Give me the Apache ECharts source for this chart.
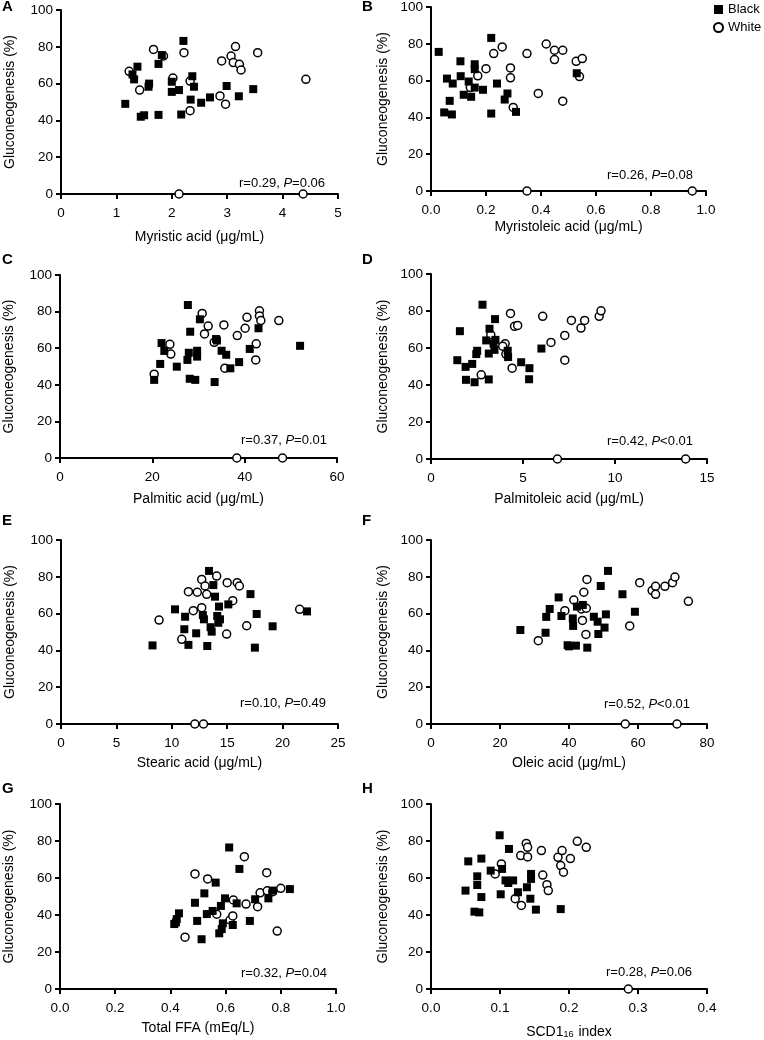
<!DOCTYPE html>
<html>
<head>
<meta charset="utf-8">
<script src="https://cdn.jsdelivr.net/npm/echarts@6/dist/echarts.min.js"></script>
<style>
html,body{margin:0;padding:0;background:#fff;}
#chart{width:764px;height:1040px;}
</style>
</head>
<body>
<div id="chart"></div>
<script>
// ---------- DATA ----------
const xNames = ['Myristic acid (\u03bcg/mL)', 'Myristoleic acid (\u03bcg/mL)', 'Palmitic acid (\u03bcg/mL)', 'Palmitoleic acid (\u03bcg/mL)',
  'Stearic acid (\u03bcg/mL)', 'Oleic acid (\u03bcg/mL)', 'Total FFA (mEq/L)', 'SCD1{sub|16} index'];
const yName = 'Gluconeogenesis (%)';
const panelLetters = ['A', 'B', 'C', 'D', 'E', 'F', 'G', 'H'];
const xMax = [5, 1.0, 60, 15, 25, 80, 1.0, 0.4];
const xInterval = [1, 0.2, 20, 5, 5, 20, 0.2, 0.1];
const xDecimals = [0, 1, 0, 0, 0, 0, 1, 1];
const yTicks = [0, 20, 40, 60, 80, 100];
const stats = ['r=0.29, {i|P}=0.06', 'r=0.26, {i|P}=0.08', 'r=0.37, {i|P}=0.01', 'r=0.42, {i|P}<0.01',
  'r=0.10, {i|P}=0.49', 'r=0.52, {i|P}<0.01', 'r=0.32, {i|P}=0.04', 'r=0.28, {i|P}=0.06'];

const blackA = [[1.16,49.0],[1.29,65.0],[1.32,62.3],[1.38,69.2],[1.44,42.0],[1.50,42.8],[1.58,58.3],[1.59,60.0],[1.76,70.7],[1.82,75.5],[1.76,43.0],[2.00,61.0],[2.00,55.5],[2.13,56.5],[2.17,43.2],[2.21,83.2],[2.37,64.0],[2.40,58.3],[2.34,51.3],[2.53,49.6],[2.69,52.5],[2.99,58.7],[3.21,53.1],[3.47,57.0]];
const whiteA = [[1.23,66.7],[1.42,56.5],[1.67,78.6],[1.85,75.0],[2.02,63.0],[2.22,76.8],[2.33,61.4],[2.33,45.3],[2.90,72.3],[3.07,75.0],[3.15,80.1],[3.11,71.4],[3.22,70.5],[3.25,67.4],[2.87,53.3],[2.97,48.8],[3.55,76.8],[4.42,62.3],[2.13,0],[4.37,0]];

const blackB = [[0.028,75.6],[0.048,42.7],[0.058,61.1],[0.068,49.0],[0.076,41.6],[0.079,58.4],[0.107,70.5],[0.108,62.4],[0.119,52.3],[0.137,59.5],[0.146,51.2],[0.159,68.9],[0.159,66.2],[0.159,56.2],[0.189,55.0],[0.219,83.2],[0.219,42.1],[0.240,58.4],[0.278,53.0],[0.268,49.7],[0.309,43.0],[0.530,64.0]];
const whiteB = [[0.143,56.2],[0.170,62.6],[0.200,66.5],[0.228,74.7],[0.259,78.3],[0.289,66.9],[0.289,61.5],[0.299,45.4],[0.349,74.7],[0.390,53.0],[0.419,79.9],[0.449,76.5],[0.479,76.5],[0.449,71.4],[0.479,48.8],[0.528,70.5],[0.550,72.0],[0.540,62.2],[0.349,0],[0.950,0]];

const blackC = [[20.4,42.7],[21.7,51.4],[22.0,62.8],[22.6,58.5],[25.3,49.9],[27.7,83.6],[28.2,69.0],[27.9,57.5],[27.6,53.6],[28.1,43.3],[29.3,42.7],[29.7,58.6],[29.7,55.4],[30.3,75.8],[33.5,41.5],[33.8,65.0],[34.0,64.2],[35.0,58.6],[36.0,56.4],[36.9,49.0],[38.8,52.4],[41.1,59.6],[43.0,70.9],[52.0,61.3]];
const whiteC = [[20.4,45.8],[23.8,62.1],[24.0,56.8],[30.8,79.0],[31.3,67.8],[32.1,72.1],[33.4,63.2],[35.5,72.7],[35.7,49.1],[38.4,66.9],[40.5,76.9],[40.1,70.9],[42.5,62.4],[42.4,53.6],[43.2,80.4],[43.2,77.6],[43.5,75.1],[47.4,75.1],[38.3,0],[48.2,0]];

const blackD = [[1.43,53.4],[1.57,69.1],[1.88,49.8],[1.90,42.8],[2.24,51.4],[2.37,41.5],[2.46,56.7],[2.51,58.5],[2.80,83.4],[3.00,64.1],[3.14,43.0],[3.18,70.4],[3.14,57.0],[3.40,62.3],[3.45,59.0],[3.48,75.6],[3.50,64.4],[4.17,58.5],[4.19,55.1],[4.90,52.3],[5.33,43.1],[5.35,49.1],[6.00,59.7]];
const whiteD = [[2.73,45.5],[3.25,67.1],[4.03,62.3],[3.90,61.0],[4.07,56.7],[4.32,78.7],[4.41,49.1],[4.54,71.7],[4.71,72.2],[6.07,77.1],[6.52,63.0],[7.27,66.8],[7.27,53.4],[7.63,74.9],[8.15,70.8],[8.35,74.9],[9.14,77.1],[9.24,80.1],[6.87,0],[13.84,0]];

const blackE = [[8.26,42.7],[10.29,62.3],[11.2,58.3],[11.13,51.5],[12.2,49.3],[11.5,43.0],[12.8,59.2],[12.9,56.9],[13.36,83.2],[13.2,42.4],[13.5,52.6],[13.6,50.2],[13.75,75.5],[13.9,69.2],[14.1,58.7],[14.26,63.8],[14.2,55.0],[14.35,56.9],[15.1,65.0],[17.1,70.6],[17.66,59.8],[17.5,41.5],[19.1,53.1],[22.2,61.2]];
const whiteE = [[8.85,56.5],[10.9,46.0],[11.5,71.9],[11.94,61.6],[12.3,71.6],[12.7,78.6],[12.7,63.2],[13.0,75.0],[13.15,70.5],[14.05,80.4],[15.0,76.8],[14.95,48.9],[15.9,76.8],[16.1,75.0],[15.5,67.0],[16.76,53.4],[21.54,62.3],[12.08,0],[12.86,0]];

const blackF = [[25.9,51.1],[33.2,49.6],[33.4,58.2],[34.4,62.5],[37.0,68.8],[37.8,58.7],[39.6,42.8],[40.0,42.2],[41.1,57.4],[41.2,53.3],[42.0,42.6],[42.3,63.8],[44.0,64.7],[45.3,41.5],[47.2,58.3],[48.3,55.6],[48.5,48.9],[49.2,75.0],[50.3,52.4],[50.7,59.6],[51.3,83.2],[55.5,70.5],[59.1,61.0]];
const whiteF = [[31.1,45.3],[38.8,61.6],[41.4,67.4],[43.6,62.5],[43.9,56.3],[44.3,71.6],[45.0,62.9],[44.9,48.7],[45.2,78.6],[57.6,53.3],[60.5,76.8],[64.1,72.5],[65.1,74.8],[65.1,70.5],[67.8,74.8],[70.0,76.8],[70.7,79.9],[74.6,66.7],[56.3,0],[71.3,0]];

const blackG = [[0.414,35.1],[0.420,36.0],[0.423,37.8],[0.431,40.9],[0.489,46.6],[0.497,36.8],[0.513,26.9],[0.523,51.7],[0.532,40.5],[0.553,42.2],[0.564,57.5],[0.577,30.1],[0.583,44.9],[0.586,32.4],[0.590,35.5],[0.598,49.0],[0.613,76.5],[0.626,34.6],[0.640,46.3],[0.650,64.9],[0.688,36.8],[0.707,48.5],[0.755,49.0],[0.771,53.2],[0.833,54.0]];
const whiteG = [[0.453,28.0],[0.489,62.2],[0.535,59.5],[0.568,40.4],[0.616,37.3],[0.626,39.5],[0.628,48.1],[0.668,71.5],[0.674,45.9],[0.716,44.5],[0.725,52.0],[0.749,62.9],[0.751,53.1],[0.771,52.6],[0.800,54.4],[0.787,31.3]];

const blackH = [[0.050,53.2],[0.054,69.0],[0.063,41.8],[0.067,60.9],[0.067,56.2],[0.070,41.4],[0.073,49.7],[0.073,70.5],[0.0865,64.0],[0.0995,83.1],[0.101,51.2],[0.103,64.9],[0.108,58.7],[0.112,57.3],[0.113,75.7],[0.119,58.7],[0.126,52.3],[0.139,55.0],[0.144,48.8],[0.145,62.2],[0.145,59.5],[0.152,42.9],[0.188,43.2]];
const whiteH = [[0.093,62.2],[0.102,67.6],[0.122,48.8],[0.131,45.2],[0.130,72.1],[0.138,78.7],[0.140,76.6],[0.140,71.4],[0.160,74.8],[0.162,61.6],[0.168,56.4],[0.170,53.2],[0.184,71.2],[0.188,66.7],[0.190,74.8],[0.192,63.1],[0.202,70.5],[0.212,79.8],[0.225,76.6],[0.286,0]];

const blackSets = [blackA, blackB, blackC, blackD, blackE, blackF, blackG, blackH];
const whiteSets = [whiteA, whiteB, whiteC, whiteD, whiteE, whiteF, whiteG, whiteH];

// ---------- LAYOUT ----------
const FONT = '"Liberation Sans", Arial, Helvetica, sans-serif';
const grids = [
  {left: 61, top: 10, width: 277, height: 184},
  {left: 431, top: 7, width: 275, height: 184},
  {left: 60, top: 275, width: 277, height: 183},
  {left: 431, top: 274, width: 276, height: 185},
  {left: 61, top: 540, width: 277, height: 184},
  {left: 431, top: 540, width: 276, height: 184},
  {left: 60, top: 804, width: 276, height: 185},
  {left: 431, top: 804, width: 276, height: 185}
];
const xNameGap = [36, 29, 34, 33, 32, 32, 32, 36];
const yNameGap = [44, 41, 44, 41, 44, 41, 44, 41];
const statPos = [[325,183],[693,175],[327,440],[693,441],[326,703],[690,704],[327,973],[692,972]];
const letterPos = [[2,7],[362,7],[2,260],[362,260],[2,521],[362,521],[2,789],[362,789]];

const axisCommon = {
  axisLine: {show: true, onZero: false, lineStyle: {color: '#000', width: 2}},
  axisTick: {show: true, length: 5, lineStyle: {color: '#000', width: 2}},
  splitLine: {show: false},
  nameLocation: 'middle'
};

const xAxes = [], yAxes = [], series = [], graphics = [];
for (let i = 0; i < 8; i++) {
  const dec = xDecimals[i];
  xAxes.push(Object.assign({}, axisCommon, {
    gridIndex: i, type: 'value', min: 0, max: xMax[i], interval: xInterval[i],
    name: xNames[i], nameGap: xNameGap[i],
    nameTextStyle: {fontSize: 14, color: '#000', fontFamily: FONT,
      rich: {sub: {fontSize: 9, color: '#000', fontFamily: FONT, verticalAlign: 'bottom', padding: [0, 1, 0, 0]}}},
    axisLabel: {color: '#000', fontSize: 13.5, fontFamily: FONT, margin: 12,
      formatter: v => v.toFixed(dec)}
  }));
  yAxes.push(Object.assign({}, axisCommon, {
    gridIndex: i, type: 'value', min: yTicks[0], max: yTicks[yTicks.length - 1], interval: 20,
    name: yName, nameGap: yNameGap[i],
    nameTextStyle: {fontSize: 14, color: '#000', fontFamily: FONT},
    axisLabel: {color: '#000', fontSize: 13.5, fontFamily: FONT, margin: 8}
  }));
  series.push({
    type: 'scatter', name: 'White', xAxisIndex: i, yAxisIndex: i, data: whiteSets[i],
    symbol: 'circle', symbolSize: 8, clip: false, z: 3,
    itemStyle: {color: '#fff', borderColor: '#000', borderWidth: 1.5, opacity: 1},
    emphasis: {disabled: true}
  });
  series.push({
    type: 'scatter', name: 'Black', xAxisIndex: i, yAxisIndex: i, data: blackSets[i],
    symbol: 'rect', symbolSize: 8, clip: false, z: 4,
    itemStyle: {color: '#000', opacity: 1},
    emphasis: {disabled: true}
  });
  graphics.push({
    type: 'text', x: statPos[i][0], y: statPos[i][1], z: 10,
    style: {text: stats[i], fill: '#000', fontSize: 13, fontFamily: FONT, align: 'right', verticalAlign: 'middle',
      rich: {i: {fontStyle: 'italic', fontSize: 13, fontFamily: FONT, fill: '#000'}}}
  });
  graphics.push({
    type: 'text', x: letterPos[i][0], y: letterPos[i][1], z: 10,
    style: {text: panelLetters[i], fill: '#000', fontSize: 15, fontWeight: 'bold', fontFamily: FONT, align: 'left', verticalAlign: 'middle'}
  });
}

const chart = echarts.init(document.getElementById('chart'), null, {renderer: 'canvas'});
chart.setOption({
  animation: false,
  backgroundColor: '#fff',
  textStyle: {fontFamily: FONT},
  grid: grids,
  xAxis: xAxes,
  yAxis: yAxes,
  series: series,
  graphic: graphics,
  legend: {
    data: ['Black', 'White'], orient: 'vertical', left: 713, top: 3, padding: 0,
    itemWidth: 9, itemHeight: 9, itemGap: 5, selectedMode: false,
    textStyle: {fontSize: 13, color: '#000', fontFamily: FONT}
  }
});
</script>
</body>
</html>
